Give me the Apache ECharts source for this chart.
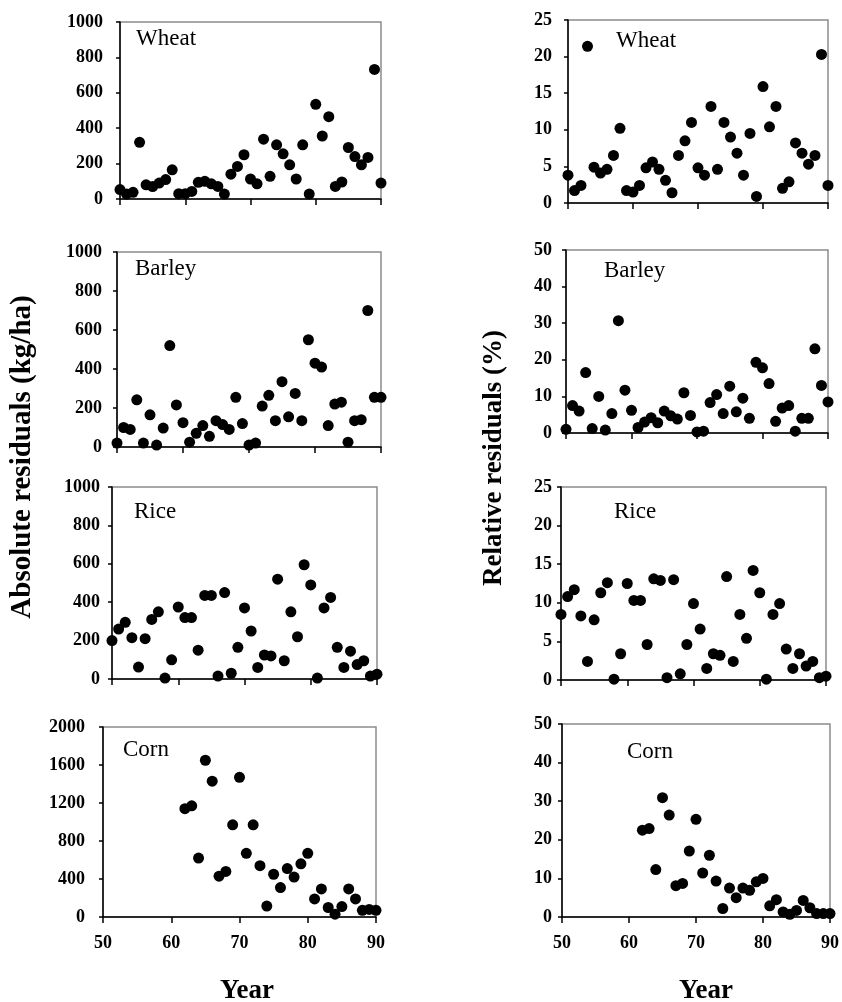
<!DOCTYPE html>
<html>
<head>
<meta charset="utf-8">
<title>Residuals</title>
<script src="https://cdn.jsdelivr.net/npm/echarts@6/dist/echarts.min.js"></script>
<style>
  html, body { margin: 0; padding: 0; background: #fff; }
  #chart { width: 842px; height: 1002px; }
</style>
</head>
<body>
<div id="chart"></div>
<script>
// years (19xx) on the x axis
const years = [50, 51, 52, 53, 54, 55, 56, 57, 58, 59, 60, 61, 62, 63, 64, 65, 66, 67, 68, 69,
  70, 71, 72, 73, 74, 75, 76, 77, 78, 79, 80, 81, 82, 83, 84, 85, 86, 87, 88, 89, 90]
const cornYears = [62, 63, 64, 65, 66, 67, 68, 69, 70, 71, 72, 73, 74, 75, 76, 77, 78, 79,
  80, 81, 82, 83, 84, 85, 86, 87, 88, 89, 90]
const xTicks = [50, 60, 70, 80, 90]

// absolute residuals (kg/ha)
const wheatAbs = [53, 28, 38, 320, 80, 70, 90, 110, 165, 30, 30, 43, 94, 100, 86, 71, 28, 140, 184, 250,
  113, 86, 338, 128, 306, 255, 193, 113, 306, 28, 535, 356, 465, 71, 96, 291, 240, 193, 235, 732, 90]
const barleyAbs = [20, 100, 90, 242, 20, 165, 10, 97, 520, 216, 125, 25, 70, 110, 55, 135, 115, 90, 255, 120,
  10, 20, 210, 265, 135, 335, 155, 275, 135, 550, 430, 410, 110, 220, 230, 25, 135, 140, 700, 255, 255]
const riceAbs = [200, 260, 295, 215, 62, 210, 310, 350, 5, 100, 375, 320, 320, 150, 435, 435, 15, 450, 30, 165,
  370, 250, 60, 125, 120, 520, 95, 350, 220, 595, 490, 5, 370, 425, 165, 60, 145, 75, 95, 15, 25]
const cornAbs = [1140, 1170, 620, 1650, 1430, 430, 480, 970, 1470, 670, 970, 540, 115, 450, 310, 510, 420, 560,
  670, 190, 295, 100, 30, 110, 295, 190, 70, 80, 70]

// relative residuals (%)
const wheatRel = [3.8, 1.7, 2.4, 21.4, 4.9, 4.1, 4.6, 6.5, 10.2, 1.7, 1.5, 2.4, 4.8, 5.6, 4.6, 3.1, 1.4, 6.5, 8.5, 11.0,
  4.8, 3.8, 13.2, 4.6, 11.0, 9.0, 6.8, 3.8, 9.5, 0.9, 15.9, 10.4, 13.2, 2.0, 2.9, 8.2, 6.8, 5.3, 6.5, 20.3, 2.4]
const barleyRel = [1.0, 7.5, 6.0, 16.5, 1.2, 10.0, 0.8, 5.3, 30.7, 11.7, 6.2, 1.5, 3.0, 4.2, 2.8, 6.0, 4.7, 3.8, 11.0, 4.8,
  0.3, 0.5, 8.3, 10.5, 5.3, 12.8, 5.8, 9.5, 4.0, 19.3, 17.8, 13.5, 3.2, 6.8, 7.5, 0.5, 4.0, 4.0, 23.0, 13.0, 8.5]
const riceRel = [8.5, 10.8, 11.7, 8.3, 2.4, 7.8, 11.3, 12.6, 0.1, 3.4, 12.5, 10.3, 10.3, 4.6, 13.1, 12.9, 0.3, 13.0, 0.8, 4.6,
  9.9, 6.6, 1.5, 3.4, 3.2, 13.4, 2.4, 8.5, 5.4, 14.2, 11.3, 0.1, 8.5, 9.9, 4.0, 1.5, 3.4, 1.8, 2.4, 0.3, 0.5]
const cornRel = [22.5, 22.9, 12.3, 30.9, 26.4, 8.1, 8.7, 17.1, 25.3, 11.4, 16.0, 9.3, 2.2, 7.5, 5.0, 7.5, 6.9, 9.1,
  10.0, 2.9, 4.5, 1.3, 0.7, 1.7, 4.3, 2.4, 0.9, 0.9, 0.9]

const serif = '"Liberation Serif", "Times New Roman", serif'

// layout of the 8 panels: box = [left, top, width, height], label = [left, top]
const panels = [
  { name: 'Wheat', xs: years, ys: wheatAbs, max: 1000, step: 200, box: [120, 22, 261, 177], label: [136, 27], margin: 17 },
  { name: 'Barley', xs: years, ys: barleyAbs, max: 1000, step: 200, box: [117, 252, 264, 195], label: [135, 257], margin: 15 },
  { name: 'Rice', xs: years, ys: riceAbs, max: 1000, step: 200, box: [112, 487, 265, 192], label: [134, 500], margin: 12 },
  { name: 'Corn', xs: cornYears, ys: cornAbs, max: 2000, step: 400, box: [103, 727, 273, 190], label: [123, 738], margin: 18, xLabels: true },
  { name: 'Wheat', xs: years, ys: wheatRel, max: 25, step: 5, box: [568, 20, 260, 183], label: [616, 29], margin: 16 },
  { name: 'Barley', xs: years, ys: barleyRel, max: 50, step: 10, box: [566, 250, 262, 183], label: [604, 259], margin: 14 },
  { name: 'Rice', xs: years, ys: riceRel, max: 25, step: 5, box: [561, 487, 265, 193], label: [614, 500], margin: 9 },
  { name: 'Corn', xs: cornYears, ys: cornRel, max: 50, step: 10, box: [562, 724, 273, 193], label: [627, 740], margin: 10, xLabels: true }
]

const chart = echarts.init(document.getElementById('chart'), null, { renderer: 'canvas' })

const grid = []
const xAxis = []
const yAxis = []
const series = []
const title = []

panels.forEach((p, i) => {
  grid.push({
    left: p.box[0],
    top: p.box[1],
    width: p.box[2],
    height: p.box[3],
    show: true,
    borderColor: '#8c8c8c',
    borderWidth: 1.5,
    backgroundColor: 'transparent'
  })
  xAxis.push({
    type: 'value',
    gridIndex: i,
    min: xTicks[0],
    max: xTicks[xTicks.length - 1],
    interval: 10,
    splitLine: { show: false },
    axisLine: { lineStyle: { color: '#000', width: 1.5 } },
    axisTick: { length: 6, lineStyle: { color: '#000', width: 1.5 } },
    axisLabel: {
      show: !!p.xLabels,
      margin: 17,
      color: '#000',
      fontFamily: serif,
      fontWeight: 'bold',
      fontSize: 18
    }
  })
  yAxis.push({
    type: 'value',
    gridIndex: i,
    min: 0,
    max: p.max,
    interval: p.step,
    splitLine: { show: false },
    axisLine: { lineStyle: { color: '#000', width: 1.5 } },
    axisTick: { length: 4, lineStyle: { color: '#000', width: 1.5 } },
    axisLabel: {
      margin: p.margin,
      color: '#000',
      fontFamily: serif,
      fontWeight: 'bold',
      fontSize: 18,
      formatter: v => String(v) // no thousands separator
    }
  })
  series.push({
    type: 'scatter',
    xAxisIndex: i,
    yAxisIndex: i,
    clip: false,
    symbol: 'circle',
    symbolSize: 11,
    itemStyle: { color: '#000', opacity: 1 },
    data: p.xs.map((x, k) => [x, p.ys[k]])
  })
  title.push({
    text: p.name,
    left: p.label[0],
    top: p.label[1],
    padding: 0,
    textStyle: { fontFamily: serif, fontWeight: 'normal', fontSize: 23, color: '#000' }
  })
})

const bigText = { fontFamily: serif, fontWeight: 'bold', fill: '#000', textAlign: 'center', textVerticalAlign: 'middle' }

chart.setOption({
  animation: false,
  backgroundColor: '#fff',
  title: title,
  grid: grid,
  xAxis: xAxis,
  yAxis: yAxis,
  series: series,
  graphic: [
    { type: 'text', x: 23, y: 457, rotation: Math.PI / 2, style: Object.assign({ text: 'Absolute residuals (kg/ha)', fontSize: 29 }, bigText) },
    { type: 'text', x: 494, y: 458, rotation: Math.PI / 2, style: Object.assign({ text: 'Relative residuals (%)', fontSize: 27 }, bigText) },
    { type: 'text', x: 247, y: 991, style: Object.assign({ text: 'Year', fontSize: 27 }, bigText) },
    { type: 'text', x: 706, y: 991, style: Object.assign({ text: 'Year', fontSize: 27 }, bigText) }
  ]
})
</script>
</body>
</html>
